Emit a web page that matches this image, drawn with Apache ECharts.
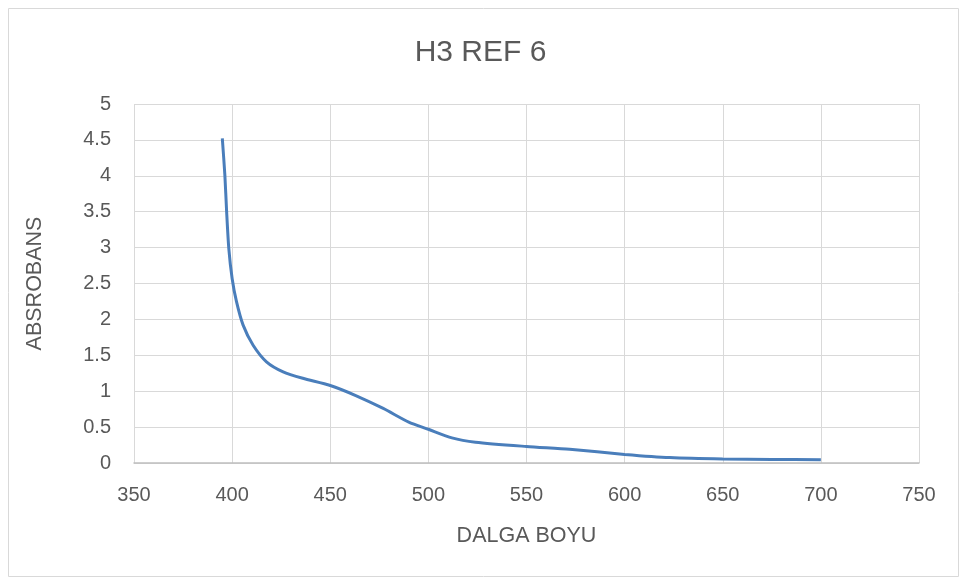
<!DOCTYPE html>
<html><head><meta charset="utf-8">
<script src="https://cdn.jsdelivr.net/npm/echarts@6/dist/echarts.min.js"></script>
<style>html,body{margin:0;padding:0;background:#fff}#c{width:961px;height:579px}</style>
</head><body><div id="c"></div>
<script>
const wavelength = [395, 396.3, 397.2, 398.3, 400, 402.2, 405.6, 410.7, 417.5, 426, 436, 450, 463, 477, 490, 500, 512, 524, 550, 572, 600, 623, 650, 675, 700];
const absorbance = [4.52, 4.01, 3.50, 2.99, 2.57, 2.25, 1.92, 1.64, 1.41, 1.27, 1.18, 1.08, 0.94, 0.76, 0.57, 0.47, 0.35, 0.29, 0.23, 0.19, 0.12, 0.075, 0.055, 0.05, 0.045];
const xTicks = [350, 750, 50];
const yTicks = [0, 5, 0.5];
const title = 'H3 REF 6';
const xName = 'DALGA BOYU';
const yName = 'ABSROBANS';

const chart = echarts.init(document.getElementById('c'));
const font = 'Liberation Sans, sans-serif';
chart.setOption({
  animation: false,
  title: { text: title, left: 'center', top: 33, textStyle: { fontFamily: font, fontSize: 30, fontWeight: 'normal', color: '#595959' } },
  graphic: [{ type: 'rect', shape: { x: 8.5, y: 8.5, width: 950, height: 568 }, style: { fill: 'none', stroke: '#d9d9d9', lineWidth: 1 }, silent: true }],
  grid: { left: 134, right: 42, top: 104, bottom: 116 },
  xAxis: {
    type: 'value', min: xTicks[0], max: xTicks[1], interval: xTicks[2],
    name: xName, nameLocation: 'middle', nameGap: 62,
    nameTextStyle: { fontFamily: font, fontSize: 21.5, color: '#595959' },
    axisLine: { show: true, lineStyle: { color: '#bfbfbf', width: 1.5 } },
    axisTick: { show: false },
    axisLabel: { fontFamily: font, fontSize: 20, color: '#595959', margin: 22 },
    splitLine: { show: true, lineStyle: { color: '#d9d9d9', width: 1 } }
  },
  yAxis: {
    type: 'value', min: yTicks[0], max: yTicks[1], interval: yTicks[2],
    name: yName, nameLocation: 'middle', nameGap: 88, nameRotate: 90,
    nameTextStyle: { fontFamily: font, fontSize: 21.5, color: '#595959' },
    axisLine: { show: false }, axisTick: { show: false },
    axisLabel: { fontFamily: font, fontSize: 20, color: '#595959', margin: 23 },
    splitLine: { show: true, lineStyle: { color: '#d9d9d9', width: 1 } }
  },
  series: [{
    type: 'line', smooth: 0.25, showSymbol: false,
    data: wavelength.map((w, i) => [w, absorbance[i]]),
    lineStyle: { color: '#4a7ebb', width: 3 }, itemStyle: { color: '#4a7ebb' }
  }]
});
</script></body></html>
